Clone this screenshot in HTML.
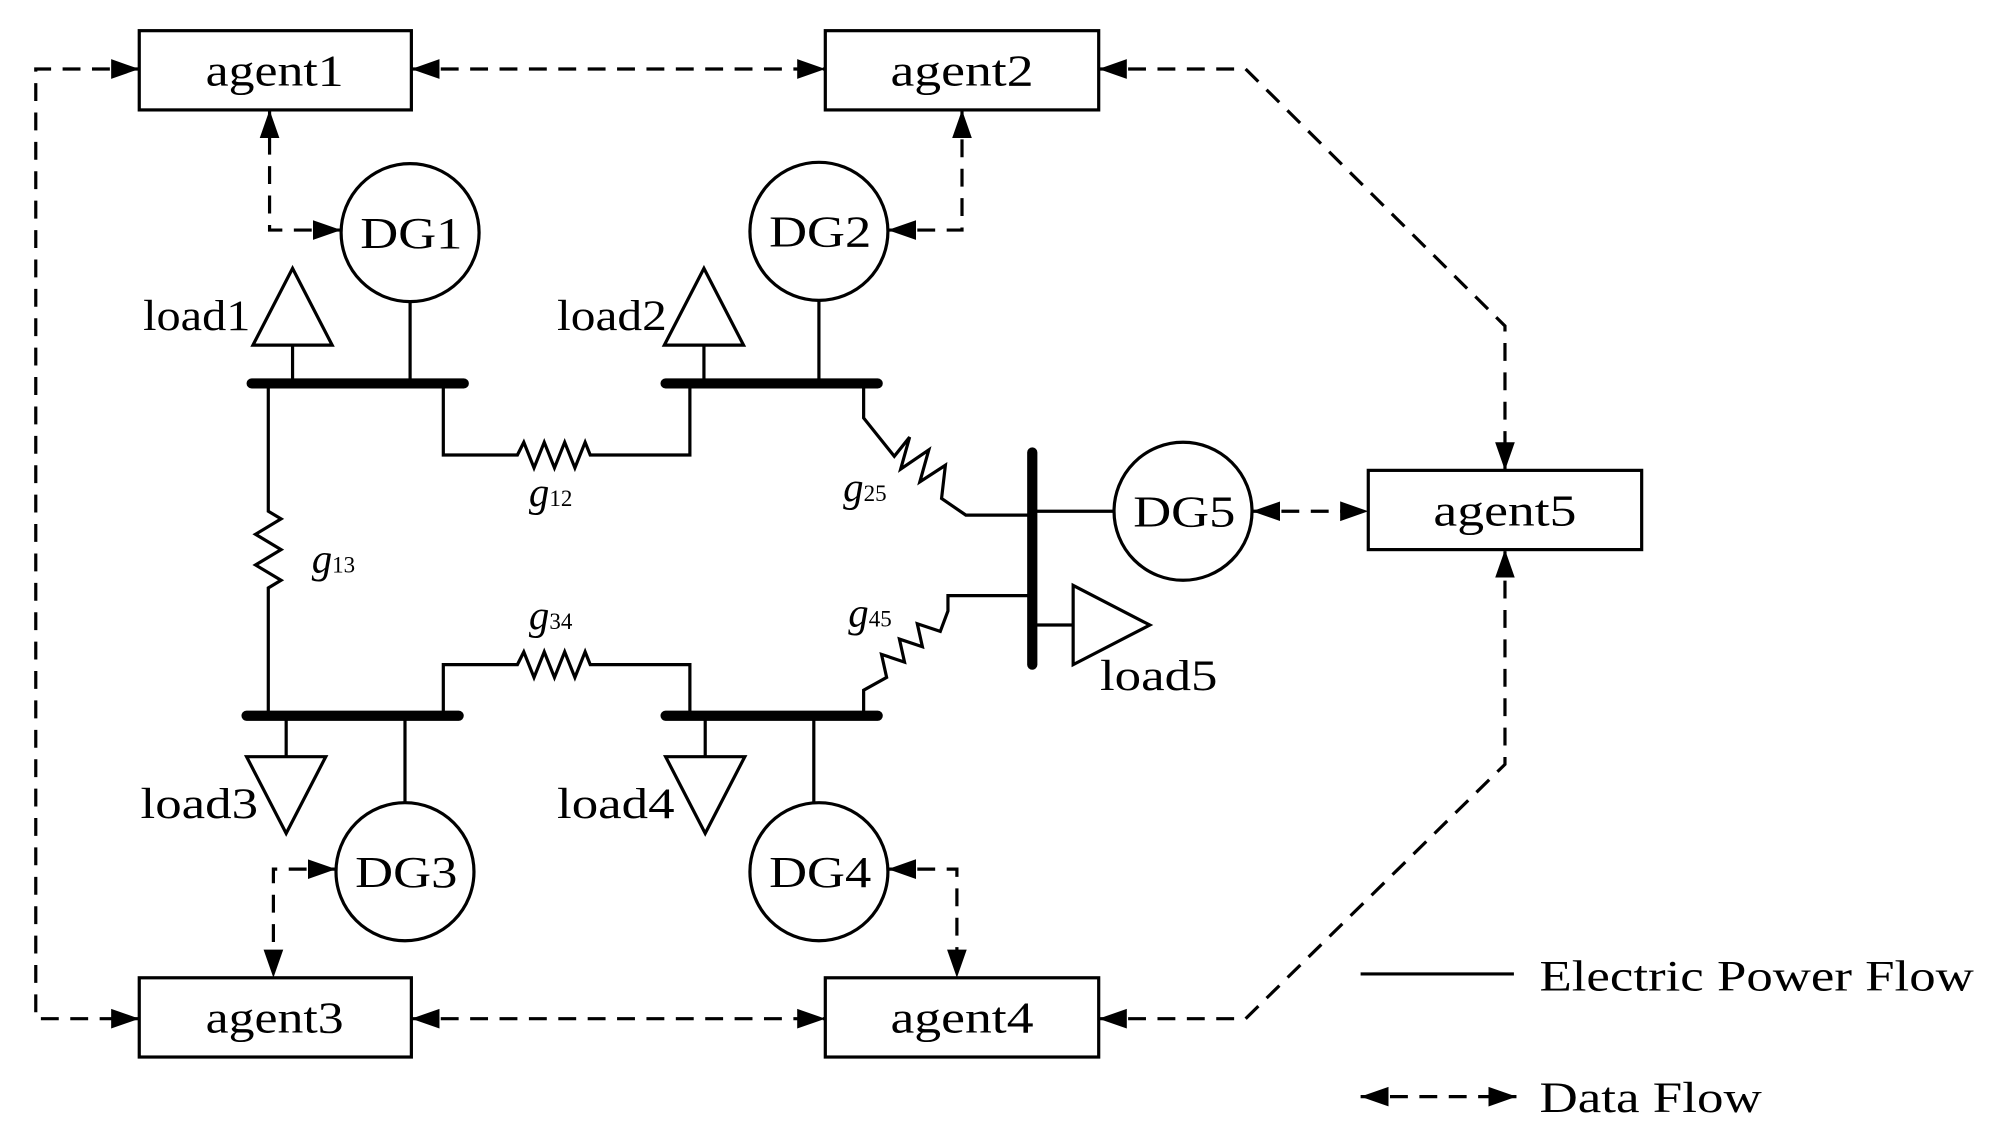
<!DOCTYPE html>
<html><head><style>html,body{margin:0;padding:0;background:#fff}svg{display:block}</style></head><body>
<svg width="1993" height="1135" viewBox="0 0 1560 888" preserveAspectRatio="none" xmlns="http://www.w3.org/2000/svg" font-family="Liberation Serif, serif">
<defs>
<marker id="b" viewBox="0 0 10 10" refX="10" refY="5" markerWidth="22" markerHeight="22" markerUnits="userSpaceOnUse" orient="auto-start-reverse"><path d="M0,1.5L10,5L0,8.5z" fill="#000"/></marker>
</defs>
<g fill="none" stroke="#000" stroke-width="2.5">
<rect x="109" y="24" width="213" height="62"/>
<rect x="646" y="24" width="214" height="62"/>
<rect x="109" y="765" width="213" height="62"/>
<rect x="646" y="765" width="214" height="62"/>
<rect x="1071" y="368" width="214" height="62"/>
<circle cx="321" cy="182" r="54"/>
<circle cx="641" cy="181" r="54"/>
<circle cx="317" cy="682" r="54"/>
<circle cx="641" cy="682" r="54"/>
<circle cx="926" cy="400" r="54"/>
<path d="M229,210L260,270L198,270Z M229,270V300"/>
<path d="M551,210L582,270L520,270Z M551,270V300"/>
<path d="M193,592L255,592L224,652Z M224,560V592"/>
<path d="M521,592L583,592L552,652Z M552,560V592"/>
<path d="M840,458L840,520L900,489Z M808,489H840"/>
<path d="M321,236V300 M641,235V300 M317,560V628 M637,560V628 M808,400H872"/>
<path d="M347,300V356H405l5,-10l8,20l8,-20l8,20l8,-20l8,20l8,-20l4,10H540V300"/>
<path d="M210,300V400l10,6l-20,12l20,12l-20,12l20,12l-10,6V560"/>
<path d="M347,560V520H405l5,-10l8,20l8,-20l8,20l8,-20l8,20l8,-20l4,10H540V560"/>
<path d="M676,300V327L700,357L712,342L705,367L727,352L720,377L740,364L737,390L756,403H808"/>
<path d="M676,560V540L694,530L690,512L708,518L704,500L722,506L718,488L736,494L742,478V466H808"/>
</g>
<g stroke="#000" stroke-width="8" stroke-linecap="round">
<line x1="197" y1="300" x2="363" y2="300"/>
<line x1="521" y1="300" x2="687" y2="300"/>
<line x1="193" y1="560" x2="359" y2="560"/>
<line x1="521" y1="560" x2="687" y2="560"/>
<line x1="808" y1="354" x2="808" y2="520"/>
</g>
<g fill="none" stroke="#000" stroke-width="2.5" stroke-dasharray="14,9" marker-end="url(#b)" marker-start="url(#b)">
<path d="M109,54H28V797H109"/>
<path d="M322,54H646"/>
<path d="M322,797H646"/>
<path d="M267,180H211V86"/>
<path d="M695,180H753V86"/>
<path d="M263,680H214V765"/>
<path d="M695,680H749V765"/>
<path d="M860,54H975L1178,255V368"/>
<path d="M860,797H975L1178,598V430"/>
<path d="M980,400H1071"/>
<path d="M1065,858H1187"/>
</g>
<line x1="1065" y1="762" x2="1185" y2="762" stroke="#000" stroke-width="2.5"/>
<g font-size="35" fill="#000" text-anchor="middle">
<text x="215" y="67" textLength="108" lengthAdjust="spacingAndGlyphs">agent1</text>
<text x="753" y="67" textLength="112" lengthAdjust="spacingAndGlyphs">agent2</text>
<text x="215" y="808" textLength="108" lengthAdjust="spacingAndGlyphs">agent3</text>
<text x="753" y="808" textLength="112" lengthAdjust="spacingAndGlyphs">agent4</text>
<text x="1178" y="411" textLength="112" lengthAdjust="spacingAndGlyphs">agent5</text>
<text x="322" y="194" textLength="80" lengthAdjust="spacingAndGlyphs">DG1</text>
<text x="642" y="193" textLength="80" lengthAdjust="spacingAndGlyphs">DG2</text>
<text x="318" y="694" textLength="80" lengthAdjust="spacingAndGlyphs">DG3</text>
<text x="642" y="694" textLength="80" lengthAdjust="spacingAndGlyphs">DG4</text>
<text x="927" y="412" textLength="80" lengthAdjust="spacingAndGlyphs">DG5</text>
</g>
<g font-size="34" fill="#000" lengthAdjust="spacingAndGlyphs">
<text x="112" y="258" textLength="84" lengthAdjust="spacingAndGlyphs">load1</text>
<text x="436" y="258" textLength="86" lengthAdjust="spacingAndGlyphs">load2</text>
<text x="110" y="640" textLength="92" lengthAdjust="spacingAndGlyphs">load3</text>
<text x="436" y="640" textLength="92" lengthAdjust="spacingAndGlyphs">load4</text>
<text x="861" y="540" textLength="92" lengthAdjust="spacingAndGlyphs">load5</text>
<text x="1205" y="775" textLength="340" lengthAdjust="spacingAndGlyphs">Electric Power Flow</text>
<text x="1205" y="870" textLength="174" lengthAdjust="spacingAndGlyphs">Data Flow</text>
</g>
<g fill="#000" font-style="italic" font-size="32">
<text x="414" y="396">g<tspan font-size="18" font-style="normal">12</tspan></text>
<text x="244" y="448">g<tspan font-size="18" font-style="normal">13</tspan></text>
<text x="414" y="492">g<tspan font-size="18" font-style="normal">34</tspan></text>
<text x="660" y="392">g<tspan font-size="18" font-style="normal">25</tspan></text>
<text x="664" y="490">g<tspan font-size="18" font-style="normal">45</tspan></text>
</g>
</svg>
</body></html>
